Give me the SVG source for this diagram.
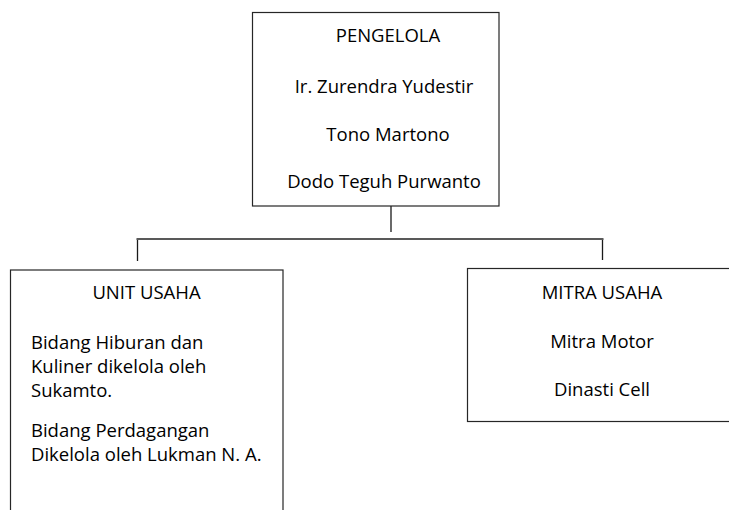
<svg xmlns="http://www.w3.org/2000/svg" width="729" height="510" viewBox="0 0 729 510">
<style>
.box{fill:#fff;stroke:#262626;stroke-width:1.2}
.t{font-family:"Open Sans","Noto Sans","Liberation Sans",sans-serif;font-size:18.5px;fill:#000}
.c{text-anchor:middle}
.ln{stroke:#1a1a1a;stroke-width:1.3;fill:none}
.hl{stroke:#595959;stroke-width:2.2;fill:none}
</style>
<rect width="729" height="510" fill="#fff"/>
<g id="connectors">
<path class="ln" d="M391 206 V232"/>
<path class="ln" d="M137.5 239 V261"/>
<path class="ln" d="M602.5 239 V260"/>
<path class="hl" d="M136.5 239 H603.5"/>
</g>
<g id="pengelola">
<rect class="box" x="252.5" y="12.5" width="246.5" height="193.5"/>
<text class="t c" x="388" y="42">PENGELOLA</text>
<text class="t c" x="384" y="93">Ir. Zurendra Yudestir</text>
<text class="t c" x="388" y="141">Tono Martono</text>
<text class="t c" x="384" y="188">Dodo Teguh Purwanto</text>
</g>
<g id="unit-usaha">
<rect class="box" x="10.5" y="270" width="272.5" height="260"/>
<text class="t c" x="146.5" y="299">UNIT USAHA</text>
<text class="t" x="31" y="349">Bidang Hiburan dan</text>
<text class="t" x="31" y="373">Kuliner dikelola oleh</text>
<text class="t" x="31" y="397">Sukamto.</text>
<text class="t" x="31" y="437">Bidang Perdagangan</text>
<text class="t" x="31" y="461">Dikelola oleh Lukman N. A.</text>
</g>
<g id="mitra-usaha">
<rect class="box" x="467.5" y="268.5" width="280" height="153"/>
<text class="t c" x="602" y="299">MITRA USAHA</text>
<text class="t c" x="602" y="348">Mitra Motor</text>
<text class="t c" x="602" y="396">Dinasti Cell</text>
</g>
</svg>
